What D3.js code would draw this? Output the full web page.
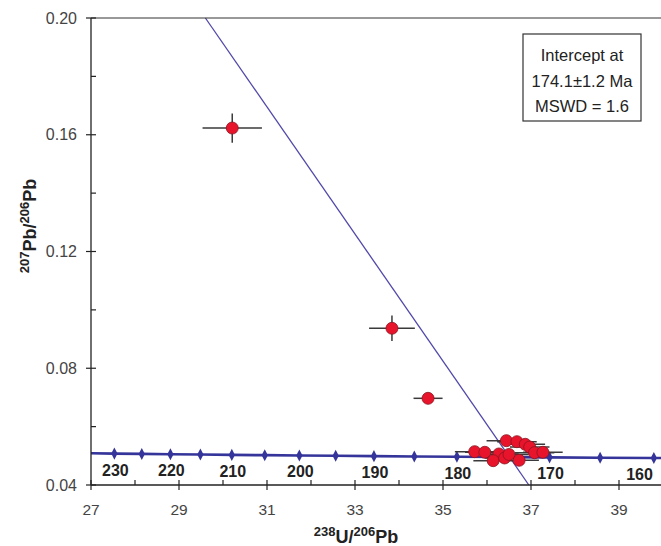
<!DOCTYPE html>
<html>
<head>
<meta charset="utf-8">
<script src="https://cdn.jsdelivr.net/npm/d3@7"></script>
<style>
  body { margin: 0; background: #fff; }
  text { font-family: Arial, "Liberation Sans", sans-serif; }
</style>
</head>
<body>
<script>

// concordia markers every 5 Ma (238U/206Pb, 207Pb/206Pb)
var markerAges = [230, 225, 220, 215, 210, 205, 200, 195, 190, 185, 180, 175, 170, 165, 160];
var markerX = [27.531, 28.154, 28.805, 29.486, 30.200, 30.949, 31.735, 32.561, 33.431, 34.348, 35.316, 36.339, 37.422, 38.571, 39.792];
var markerY = [0.05076, 0.05065, 0.05054, 0.05043, 0.05032, 0.05022, 0.05011, 0.05000, 0.04989, 0.04979, 0.04968, 0.04957, 0.04947, 0.04936, 0.04926];

// the curve runs on to the plot edges
var curveEndX = [27.0, 40.0];
var curveEndY = [0.05087, 0.04923];

var ageLabels = [230, 220, 210, 200, 190, 180, 170, 160];

// discordia line through the lower intercept
var discX = [29.6, 36.95];
var discY = [0.20, 0.04];

// analyses with 2s errors
var ptX =    [30.21, 33.84, 34.66, 35.72, 35.95, 36.27, 36.14, 36.40, 36.50, 36.44, 36.68, 36.87, 36.97, 36.73, 37.08, 37.27];
var ptY =    [0.1623, 0.0937, 0.0697, 0.05142, 0.05121, 0.05063, 0.04833, 0.04926, 0.05046, 0.05519, 0.05484, 0.05395, 0.0530, 0.04847, 0.05107, 0.05121];
var ptXErr = [0.675, 0.52, 0.33, 0.45, 0.45, 0.45, 0.45, 0.45, 0.45, 0.45, 0.45, 0.45, 0.45, 0.45, 0.45, 0.45];
var ptYErr = [0.0050, 0.0044, 0.0010, 0.0010, 0.0010, 0.0010, 0.0010, 0.0010, 0.0010, 0.0010, 0.0010, 0.0010, 0.0010, 0.0010, 0.0010, 0.0010];

var xMajor = [27, 29, 31, 33, 35, 37, 39];
var xMinor = [28, 30, 32, 34, 36, 38, 40];
var yMajor = [0.04, 0.08, 0.12, 0.16, 0.20];
var yMinor = [0.06, 0.10, 0.14, 0.18];

var legendLines = ["Intercept at", "174.1\u00b11.2 Ma", "MSWD = 1.6"];

var svgWidth = 661;
var svgHeight = 546;

var margin = { top: 18, right: -2, bottom: 61, left: 91 };
var chartWidth = svgWidth - margin.left - margin.right;
var chartHeight = svgHeight - margin.top - margin.bottom;

var svg = d3.select('body')
  .append('svg')
  .attr('width', svgWidth)
  .attr('height', svgHeight);

var g = svg.append('g')
  .attr('transform', `translate(${margin.left}, ${margin.top})`);

var x = d3.scaleLinear().domain([27, 40]).range([0, chartWidth]);
var y = d3.scaleLinear().domain([0.04, 0.20]).range([chartHeight, 0]);

// concordia curve
var curvePts = markerX.map((v, i) => [v, markerY[i]]);
curvePts.unshift([curveEndX[0], curveEndY[0]]);
curvePts.push([curveEndX[1], curveEndY[1]]);

g.append('path')
  .datum(curvePts)
  .attr('fill', 'none')
  .attr('stroke', '#34349a')
  .attr('stroke-width', 2.6)
  .attr('d', d3.line().x(d => x(d[0])).y(d => y(d[1])));

g.selectAll('.mk')
  .data(markerAges)
  .enter()
  .append('path')
  .attr('class', 'mk')
  .attr('d', d3.symbol().type(d3.symbolDiamond).size(42))
  .attr('transform', (d, i) => `translate(${x(markerX[i])}, ${y(markerY[i])}) scale(0.9, 1)`)
  .attr('fill', '#34349a');

g.selectAll('.age')
  .data(ageLabels)
  .enter()
  .append('text')
  .attr('class', 'age')
  .attr('x', d => {
    var i = markerAges.indexOf(d);
    return d == 160 ? x(markerX[i]) - 1 : x(markerX[i]) + 1;
  })
  .attr('y', d => y(markerY[markerAges.indexOf(d)]) + 22)
  .attr('text-anchor', d => d == 160 ? 'end' : 'middle')
  .attr('font-size', 16)
  .attr('font-weight', 'bold')
  .attr('fill', '#222')
  .text(d => d);

// discordia
g.append('line')
  .attr('x1', x(discX[0]))
  .attr('y1', y(discY[0]))
  .attr('x2', x(discX[1]))
  .attr('y2', y(discY[1]))
  .attr('stroke', '#5048aa')
  .attr('stroke-width', 1.3);

// error bars
var pts = ptX.map((v, i) => ({ x: v, y: ptY[i], ex: ptXErr[i], ey: ptYErr[i] }));

g.selectAll('.eh')
  .data(pts)
  .enter()
  .append('line')
  .attr('x1', d => x(d.x - d.ex))
  .attr('x2', d => x(d.x + d.ex))
  .attr('y1', d => y(d.y))
  .attr('y2', d => y(d.y))
  .attr('stroke', '#3a3a3a')
  .attr('stroke-width', 1.5);

g.selectAll('.ev')
  .data(pts)
  .enter()
  .append('line')
  .attr('x1', d => x(d.x))
  .attr('x2', d => x(d.x))
  .attr('y1', d => y(d.y - d.ey))
  .attr('y2', d => y(d.y + d.ey))
  .attr('stroke', '#3a3a3a')
  .attr('stroke-width', 1.5);

g.selectAll('.pt')
  .data(pts)
  .enter()
  .append('circle')
  .attr('r', 6)
  .attr('cx', d => x(d.x))
  .attr('cy', d => y(d.y))
  .attr('fill', '#e8142c')
  .attr('stroke', '#8a1420')
  .attr('stroke-width', 0.8);

// axes frame
g.append('line')
  .attr('x1', 0).attr('x2', chartWidth)
  .attr('y1', 0).attr('y2', 0)
  .attr('stroke', '#333').attr('stroke-width', 1);

g.append('line')
  .attr('x1', 0).attr('x2', chartWidth)
  .attr('y1', chartHeight).attr('y2', chartHeight)
  .attr('stroke', '#222').attr('stroke-width', 1.3);

g.append('line')
  .attr('x1', 0).attr('x2', 0)
  .attr('y1', 0).attr('y2', chartHeight)
  .attr('stroke', '#222').attr('stroke-width', 1.3);

// x ticks
g.selectAll('.xt')
  .data(xMajor)
  .enter()
  .append('line')
  .attr('x1', d => x(d)).attr('x2', d => x(d))
  .attr('y1', chartHeight - 5).attr('y2', chartHeight + 5)
  .attr('stroke', '#222').attr('stroke-width', 1.2);

g.selectAll('.xm')
  .data(xMinor)
  .enter()
  .append('line')
  .attr('x1', d => x(d)).attr('x2', d => x(d))
  .attr('y1', chartHeight - 5).attr('y2', chartHeight)
  .attr('stroke', '#222').attr('stroke-width', 1.2);

g.selectAll('.xl')
  .data(xMajor)
  .enter()
  .append('text')
  .attr('x', d => x(d))
  .attr('y', chartHeight + 30)
  .attr('text-anchor', 'middle')
  .attr('font-size', 15.5)
  .attr('fill', '#444')
  .text(d => d);

// y ticks
g.selectAll('.yt')
  .data(yMajor)
  .enter()
  .append('line')
  .attr('x1', -5).attr('x2', 5)
  .attr('y1', d => y(d)).attr('y2', d => y(d))
  .attr('stroke', '#222').attr('stroke-width', 1.2);

g.selectAll('.ym')
  .data(yMinor)
  .enter()
  .append('line')
  .attr('x1', 0).attr('x2', 5)
  .attr('y1', d => y(d)).attr('y2', d => y(d))
  .attr('stroke', '#222').attr('stroke-width', 1.2);

g.selectAll('.yl')
  .data(yMajor)
  .enter()
  .append('text')
  .attr('x', -14)
  .attr('y', d => y(d) + 5.5)
  .attr('text-anchor', 'end')
  .attr('font-size', 16)
  .attr('fill', '#444')
  .text(d => d.toFixed(2));

// axis titles
var xt = svg.append('text')
  .attr('x', 356)
  .attr('y', 543)
  .attr('text-anchor', 'middle')
  .attr('font-weight', 'bold')
  .attr('fill', '#222')
  .attr('font-size', 18);
xt.append('tspan').attr('font-size', 13).attr('dy', -7).text('238');
xt.append('tspan').attr('dy', 7).text('U/');
xt.append('tspan').attr('font-size', 13).attr('dy', -7).text('206');
xt.append('tspan').attr('dy', 7).text('Pb');

var yt = svg.append('text')
  .attr('transform', 'translate(36, 226) rotate(-90)')
  .attr('text-anchor', 'middle')
  .attr('font-weight', 'bold')
  .attr('fill', '#222')
  .attr('font-size', 18);
yt.append('tspan').attr('font-size', 13).attr('dy', -7).text('207');
yt.append('tspan').attr('dy', 7).text('Pb/');
yt.append('tspan').attr('font-size', 13).attr('dy', -7).text('206');
yt.append('tspan').attr('dy', 7).text('Pb');

// intercept box
var box = svg.append('g').attr('transform', 'translate(523, 34)');
box.append('rect')
  .attr('width', 118)
  .attr('height', 87)
  .attr('fill', '#fff')
  .attr('stroke', '#333')
  .attr('stroke-width', 1.2);
box.selectAll('text')
  .data(legendLines)
  .enter()
  .append('text')
  .attr('x', 59)
  .attr('y', (d, i) => 27 + i * 25.5)
  .attr('text-anchor', 'middle')
  .attr('font-size', 16.5)
  .attr('fill', '#222')
  .text(d => d);

</script>
</body>
</html>
